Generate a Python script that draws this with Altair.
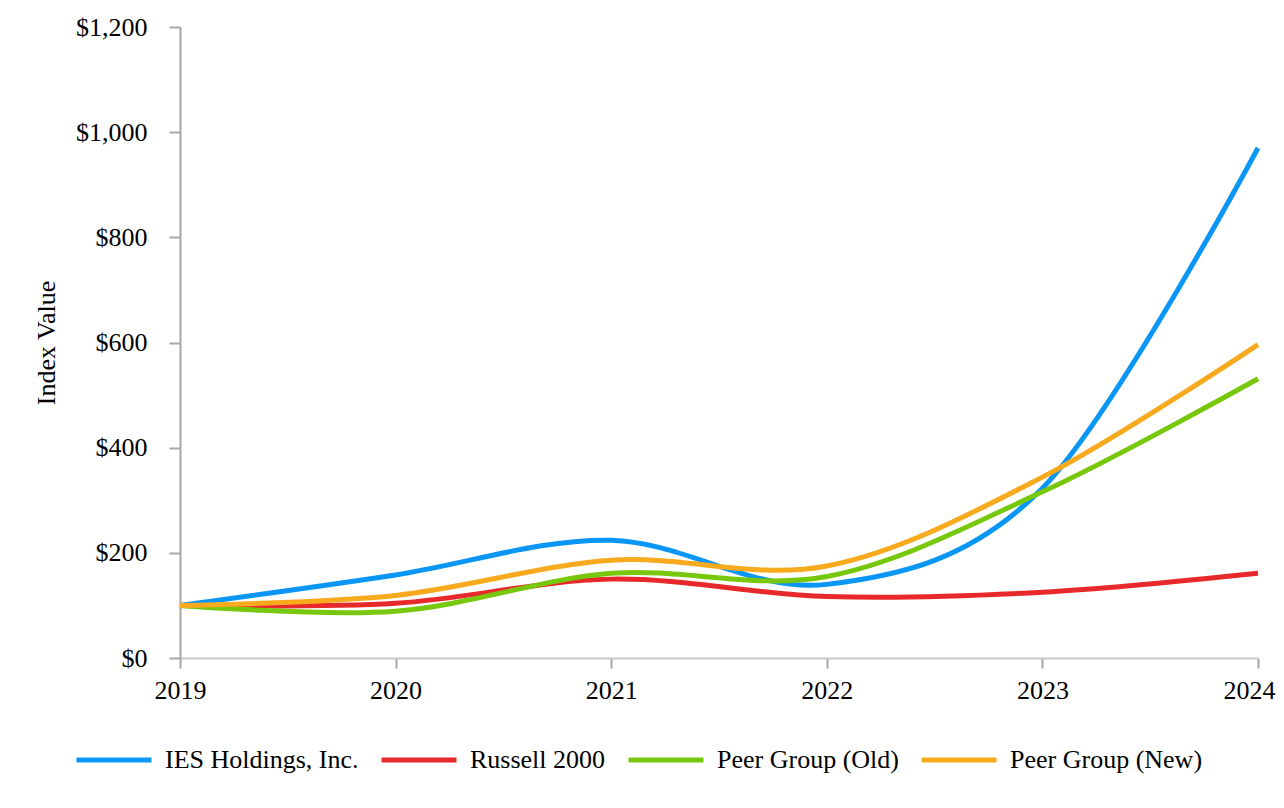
import altair as alt
import pandas as pd

years = [2019, 2020, 2021, 2022, 2023, 2024]
series_names = ["IES Holdings, Inc.", "Russell 2000", "Peer Group (Old)", "Peer Group (New)"]
ies = [100, 158, 224, 140, 323, 970]
russell = [100, 104, 150, 117, 125, 161]
peer_old = [100, 89, 161, 155, 316, 531]
peer_new = [100, 119, 186, 175, 344, 596]
colors = ["#0a96f5", "#e8292c", "#77c80d", "#f8aa1f"]

rows = []
for name, vals in zip(series_names, [ies, russell, peer_old, peer_new]):
    for yr, v in zip(years, vals):
        rows.append({"Year": yr, "Series": name, "Value": v})
df = pd.DataFrame(rows)

FONT = "Liberation Serif"

chart = alt.Chart(df).mark_line(strokeWidth=5, interpolate="cardinal", clip=False).encode(
    x=alt.X("Year:Q",
            scale=alt.Scale(domain=[2019, 2024], nice=False, zero=False),
            axis=alt.Axis(values=years, format="d", title=None, grid=False,
                          labelFontSize=26, labelFont=FONT, labelColor="#000000",
                          tickSize=10, tickColor="#a6a6a6", domainColor="#c8c8c8",
                          domainWidth=2, tickWidth=2, labelPadding=9,
                          labelFlush=False, labelBound=False,
                          labelOffset={"condition": {"test": "datum.value == 2024", "value": -9},
                                       "value": 0})),
    y=alt.Y("Value:Q",
            scale=alt.Scale(domain=[0, 1200], nice=False),
            axis=alt.Axis(values=[0, 200, 400, 600, 800, 1000, 1200], format="$,.0f",
                          title="Index Value", titleFont=FONT, titleFontSize=26,
                          titleFontWeight="normal", titleColor="#000000", titlePadding=16,
                          grid=False, labelFontSize=26, labelFont=FONT, labelColor="#000000",
                          tickSize=11, tickColor="#a6a6a6", domainColor="#a6a6a6",
                          domainWidth=2, tickWidth=2, labelPadding=22)),
    color=alt.Color("Series:N",
                    scale=alt.Scale(domain=series_names, range=colors),
                    sort=series_names,
                    legend=alt.Legend(title=None, orient="none", legendX=-106, legendY=693,
                                      direction="horizontal", columns=4,
                                      symbolType="stroke", symbolSize=5625,
                                      symbolStrokeWidth=5, labelFont=FONT, labelFontSize=26,
                                      labelColor="#000000", labelOffset=11,
                                      columnPadding=12, labelLimit=400)),
).properties(
    width=1078, height=631,
    autosize=alt.AutoSizeParams(type="none"),
    padding={"left": 172, "top": 19, "right": 18, "bottom": 140},
).configure_view(stroke=None)

chart.save("out.html", embed_options={"renderer": "svg", "actions": False})
